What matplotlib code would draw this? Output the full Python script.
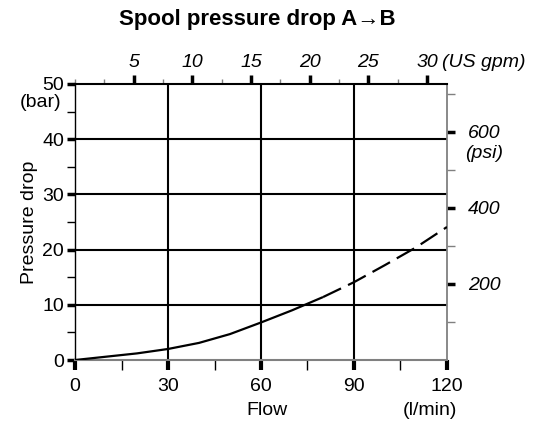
import numpy as np
import matplotlib as mpl
import matplotlib.pyplot as plt

mpl.rcParams['font.family'] = ['Liberation Sans', 'DejaVu Sans']
mpl.rcParams['font.size'] = 14

# flow (l/min) vs pressure drop (bar)
flow = [0, 10, 20, 30, 40, 50, 60, 70, 80, 90, 100, 110, 120]
dp = [0, 0.6, 1.2, 2.0, 3.1, 4.7, 6.8, 9.0, 11.4, 14.1, 17.2, 20.4, 24.1]
solid_end = 8  # measured range ends at 80 l/min, dashed beyond

x_major = [0, 30, 60, 90, 120]
x_minor = [15, 45, 75, 105]
y_major = [0, 10, 20, 30, 40, 50]
y_minor = [5, 15, 25, 35, 45]
gpm_major = [5, 10, 15, 20, 25, 30]
gpm_minor = [0, 2.5, 7.5, 12.5, 17.5, 22.5, 27.5]
psi_major = [200, 400, 600]
psi_minor = [100, 300, 500, 700]

LPM_PER_GPM = 3.785
PSI_PER_BAR = 14.5038
FS = 14

fig = plt.figure(figsize=(5.42, 4.24), dpi=100)
ax = fig.add_axes([0.1384, 0.1509, 0.6863, 0.651])
ax.set_xlim(0, 120)
ax.set_ylim(0, 50)

# grid
for gx in x_major[1:-1]:
    ax.axvline(gx, color='black', lw=1.5, zorder=1)
for gy in y_major[1:-1]:
    ax.axhline(gy, color='black', lw=1.5, zorder=1)

ax.plot(flow[:solid_end + 1], dp[:solid_end + 1], color='black', lw=1.6,
        solid_capstyle='butt', zorder=3)
ax.plot(flow[solid_end:], dp[solid_end:], color='black', lw=1.6,
        dashes=(9, 3.5), zorder=3)

ax.spines['left'].set_color('black')
ax.spines['left'].set_linewidth(1.0)
ax.spines['top'].set_color('black')
ax.spines['top'].set_linewidth(1.5)
ax.spines['right'].set_color('gray')
ax.spines['right'].set_linewidth(1.3)
ax.spines['bottom'].set_color('gray')
ax.spines['bottom'].set_linewidth(1.5)

ax.set_xticks(x_major)
ax.set_xticks(x_minor, minor=True)
ax.set_yticks(y_major)
ax.set_yticks(y_minor, minor=True)
ax.tick_params(axis='x', which='major', direction='out', length=7, width=3,
               color='black', pad=6, labelsize=FS)
ax.tick_params(axis='x', which='minor', direction='out', length=7, width=1,
               color='black')
ax.tick_params(axis='y', which='major', direction='out', length=6, width=2.5,
               color='black', pad=2, labelsize=FS)
ax.tick_params(axis='y', which='minor', direction='out', length=6, width=1,
               color='black')

# US gpm on top
secx = ax.secondary_xaxis('top', functions=(lambda l: l / LPM_PER_GPM,
                                            lambda g: g * LPM_PER_GPM))
secx.set_xticks(gpm_major, [str(g) for g in gpm_major], fontstyle='italic')
secx.set_xticks(gpm_minor, minor=True)
secx.tick_params(which='major', direction='out', length=6.5, width=2.5,
                 color='black', pad=3, labelsize=FS)
secx.tick_params(which='minor', direction='out', length=3.5, width=1,
                 color='gray')
for s in secx.spines.values():
    s.set_visible(False)

# psi on the right
secy = ax.secondary_yaxis('right', functions=(lambda b: b * PSI_PER_BAR,
                                              lambda p: p / PSI_PER_BAR))
secy.set_yticks(psi_major, [str(p) for p in psi_major], fontstyle='italic')
secy.set_yticks(psi_minor, minor=True)
secy.tick_params(which='major', direction='out', length=6, width=2.5,
                 color='black', pad=9, labelsize=FS)
secy.tick_params(which='minor', direction='out', length=6, width=1,
                 color='gray')
for s in secy.spines.values():
    s.set_visible(False)

# unit labels
ax.annotate('(bar)', xy=(0, 50), xytext=(-24.5, -13), textcoords='offset points',
            ha='center', va='center', fontsize=FS)
ax.annotate('(l/min)', xy=(120, 0), xytext=(-12, -36), textcoords='offset points',
            ha='center', va='center', fontsize=FS)
ax.annotate('Flow', xy=(60, 0), xytext=(4.5, -36), textcoords='offset points',
            ha='center', va='center', fontsize=FS)
ax.annotate('(psi)', xy=(120, psi_major[-1] / PSI_PER_BAR), xytext=(13, -15.5),
            textcoords='offset points', ha='left', va='center',
            fontsize=FS, fontstyle='italic')
ax.annotate('(US gpm)', xy=(gpm_major[-1] * LPM_PER_GPM, 50), xytext=(11, 9.7),
            textcoords='offset points', ha='left', va='bottom',
            fontsize=FS, fontstyle='italic')

ax.set_ylabel('Pressure drop', fontsize=FS, labelpad=3)

fig.text(0.474, 0.953, 'Spool pressure drop A\u2192B', ha='center', va='center',
         fontsize=16, fontweight='bold')

fig.savefig('out.png', dpi=100)
